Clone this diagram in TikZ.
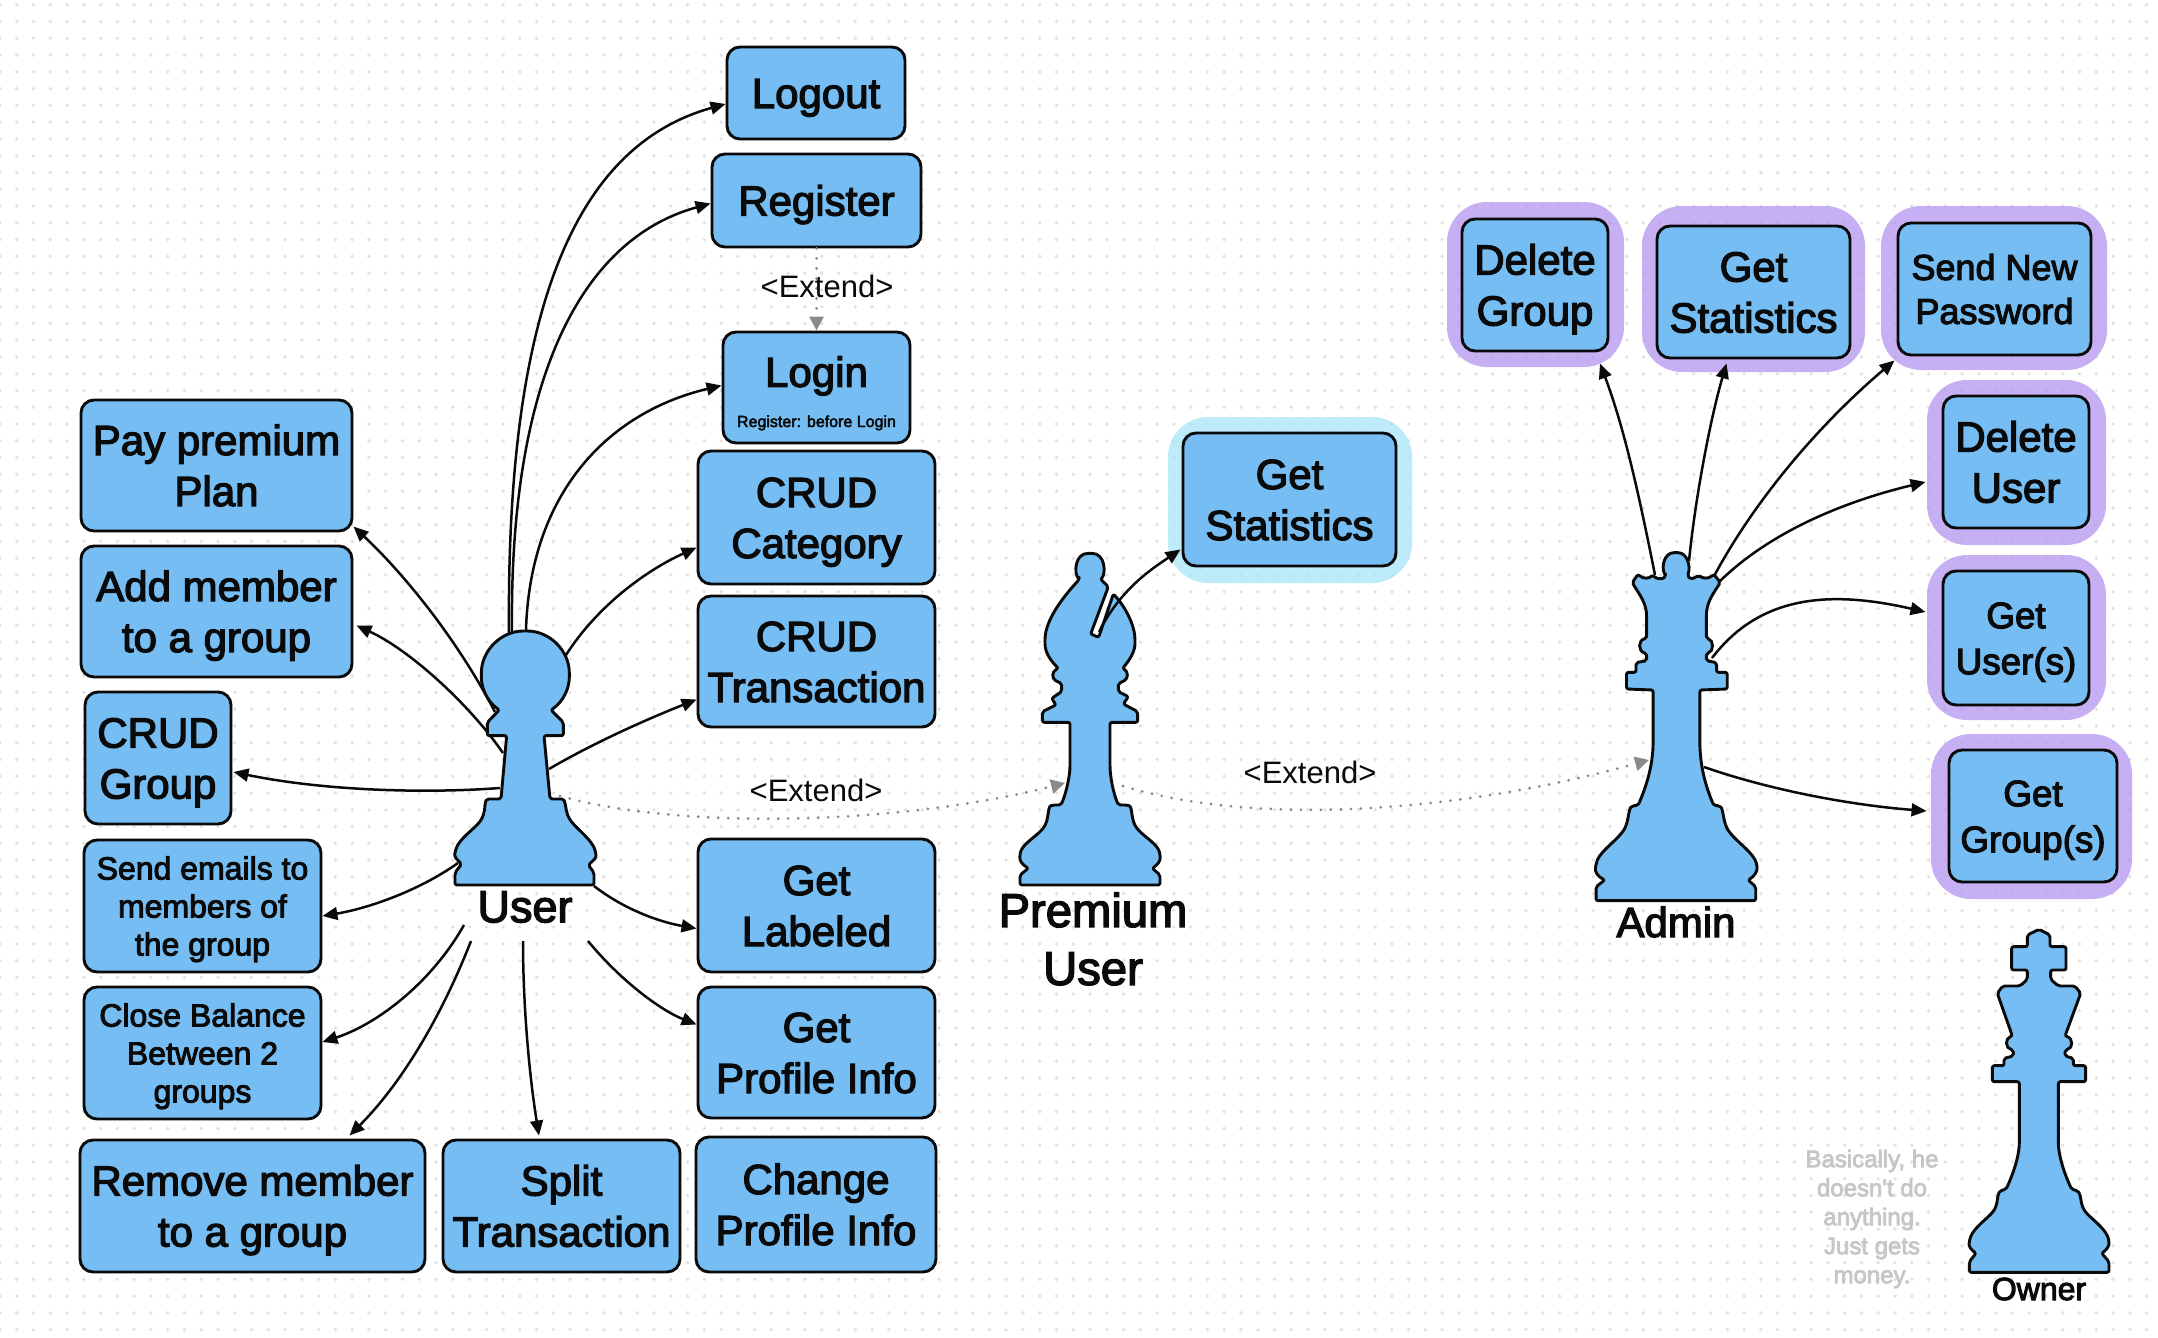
\documentclass[tikz,border=0pt]{standalone}
\usepackage{fontspec}
\setmainfont{Liberation Sans}
\newfontfamily\medf[FakeBold=3]{Liberation Sans}
\usetikzlibrary{arrows.meta,calc}
\definecolor{ucblue}{HTML}{75BDF2}
\definecolor{inkc}{HTML}{0A0A0A}
\definecolor{griddot}{HTML}{E2E2E2}
\definecolor{haloP}{HTML}{B595EF}
\definecolor{haloB}{HTML}{A9E5F9}
\definecolor{dotgray}{HTML}{8A8A8A}
\definecolor{notec}{HTML}{C6C6C6}
\tikzset{
  ucbox/.style={draw=inkc,fill=ucblue,line width=1.45pt,rounded corners=6.5pt,inner sep=0pt,align=center,text=inkc,text depth=0pt},
  bigf/.style={font=\fontsize{21}{25.5}\selectfont\medf,text height=40.5pt},
  bigone/.style={font=\fontsize{21}{25.5}\selectfont\medf,text height=15pt},
  smallf/.style={font=\fontsize{16}{19}\selectfont\medf,text height=49.5pt},
  midf/.style={font=\fontsize{18.4}{23}\selectfont\medf,text height=36.2pt},
  pwf/.style={font=\fontsize{18}{22}\selectfont\medf,text height=34.9pt},
  loginf/.style={font=\fontsize{21}{25.5}\selectfont\medf,text height=39.5pt},
  arr/.style={draw=inkc,line width=1.25pt,-{Triangle[length=7.5pt,width=6.4pt]}},
  dotarr/.style={draw=dotgray,line width=1.55pt,line cap=round,dash pattern=on 0pt off 5pt,-{Triangle[length=7pt,width=7pt,fill=dotgray,line cap=butt]}},
  piece/.style={draw=inkc,fill=ucblue,line width=1.45pt,line join=round,rounded corners=1pt},
  haloPur/.style={fill=haloP,fill opacity=.75,rounded corners=20pt},
  haloBlu/.style={fill=haloB,fill opacity=.75,rounded corners=20pt},
  extlab/.style={font=\fontsize{15.5}{18}\selectfont,text=inkc,inner sep=0pt},
  plabel/.style={text=inkc,inner sep=0pt,align=center},
}
\newcommand{\ucase}[7]{\node[ucbox,#6,minimum width={(#4-#2)*0.5pt},minimum height={(#5-#3)*0.5pt}] (#1) at ({(#2+#4)/2},{(#3+#5)/2}) {#7};}
\begin{document}
\begin{tikzpicture}[x=0.5pt,y=-0.5pt]
\useasboundingbox (0,0) rectangle (2158,1338);
\fill[white] (0,0) rectangle (2158,1338);
% dotted grid
\foreach \j in {0,...,79}{
  \draw[griddot,line width=1.9pt,line cap=round,dash pattern=on 0pt off 8.385pt] (0,{4.8+16.77*\j}) -- (2158,{4.8+16.77*\j});
}
% halos
\path[haloBlu] (1168,417) rectangle (1412,583);
\path[haloPur] (1447,202) rectangle (1624,367);
\path[haloPur] (1642,206) rectangle (1865,372);
\path[haloPur] (1881,206) rectangle (2107,370);
\path[haloPur] (1927,380) rectangle (2106,545);
\path[haloPur] (1927,555) rectangle (2106,720);
\path[haloPur] (1931,734) rectangle (2132,899);
% use case boxes
\ucase{logout}{727}{47}{905}{139}{bigone}{Logout}
\ucase{register}{712}{154}{921}{247}{bigone}{Register}
\ucase{login}{723}{332}{910}{443}{loginf}{Login\\[-5.4pt]{\fontsize{8}{10}\selectfont Register: before Login}}
\ucase{crudcat}{698}{451}{935}{584}{bigf}{CRUD\\Category}
\ucase{crudtra}{698}{596}{935}{727}{bigf}{CRUD\\Transaction}
\ucase{labeled}{698}{839}{935}{972}{bigf}{Get\\Labeled}
\ucase{profile}{698}{987}{935}{1118}{bigf}{Get\\Profile Info}
\ucase{change}{696}{1137}{936}{1272}{bigf}{Change\\Profile Info}
\ucase{split}{443}{1140}{680}{1272}{bigf}{Split\\Transaction}
\ucase{remove}{80}{1140}{425}{1272}{bigf}{Remove member\\to a group}
\ucase{close}{84}{987}{321}{1119}{smallf}{Close Balance\\Between 2\\groups}
\ucase{send}{84}{840}{321}{972}{smallf}{Send emails to\\members of\\the group}
\ucase{crudgrp}{85}{692}{231}{824}{bigf}{CRUD\\Group}
\ucase{addm}{81}{546}{352}{677}{bigf}{Add member\\to a group}
\ucase{pay}{81}{400}{352}{531}{bigf}{Pay premium\\Plan}
\ucase{pstat}{1183}{433}{1396}{566}{bigf}{Get\\Statistics}
\ucase{delgrp}{1462}{219}{1608}{351}{bigf}{Delete\\Group}
\ucase{astat}{1657}{226}{1850}{358}{bigf}{Get\\Statistics}
\ucase{sendpw}{1898}{223}{2091}{355}{pwf}{Send New\\Password}
\ucase{deluser}{1943}{396}{2089}{528}{bigf}{Delete\\User}
\ucase{getuser}{1943}{571}{2089}{705}{midf}{Get\\User(s)}
\ucase{getgrp}{1949}{750}{2117}{882}{midf}{Get\\Group(s)}
% connector anchors on the pieces
\coordinate (uA) at (509,633);
\coordinate (uB) at (512,633);
\coordinate (uC) at (526,630);
\coordinate (uD) at (566,655);
\coordinate (uE) at (549,769);
\coordinate (uF) at (594,886);
\coordinate (uG) at (588,941);
\coordinate (uH) at (523,941);
\coordinate (uI) at (471,941);
\coordinate (uJ) at (464,925);
\coordinate (uK) at (458,863);
\coordinate (uL) at (500,788);
\coordinate (uM) at (503,753);
\coordinate (uN) at (495,712);
\coordinate (uX) at (560,796);
\coordinate (bA) at (1099,632);
\coordinate (bIn) at (1065,783);
\coordinate (bOut) at (1123,786);
\coordinate (qIn) at (1649,760);
\coordinate (qA) at (1655,575);
\coordinate (qB) at (1689,561);
\coordinate (qC) at (1713,578);
\coordinate (qD) at (1716,585);
\coordinate (qE) at (1712,658);
\coordinate (qF) at (1704,767);
% connectors
\draw[arr] (uA) .. controls (506,303) and (578,145) .. ($(logout.west)+(0,11)$);
\draw[arr] (uB) .. controls (509,385) and (578,240) .. ($(register.west)+(0,3)$);
\draw[arr] (uC) .. controls (530,495) and (606,413) .. ($(login.west)+(0,-2)$);
\draw[arr] (uD) .. controls (598,605) and (647,570) .. ($(crudcat.west)+(0,30)$);
\draw[arr] (uE) .. controls (590,745) and (640,722) .. ($(crudtra.west)+(0,38)$);
\draw[arr] (uF) .. controls (625,910) and (660,922) .. ($(labeled.west)+(0,23)$);
\draw[arr] (uG) .. controls (620,980) and (660,1010) .. ($(profile.west)+(0,-28)$);
\draw[arr] (uH) .. controls (523,1010) and (530,1080) .. ($(split.north)+(-22.5,-3)$);
\draw[arr] (uI) .. controls (440,1020) and (400,1085) .. ($(remove.north)+(97,-3)$);
\draw[arr] (uJ) .. controls (430,985) and (375,1025) .. ($(close.east)+(0,-11)$);
\draw[arr] (uK) .. controls (420,890) and (370,908) .. ($(send.east)+(0,10)$);
\draw[arr] (uL) .. controls (420,794) and (320,790) .. ($(crudgrp.east)+(1,14)$);
\draw[arr] (uM) .. controls (470,705) and (410,650) .. ($(addm.east)+(3,14)$);
\draw[arr] (uN) .. controls (455,635) and (400,570) .. ($(pay.east)+(0,61)$);
\draw[arr] (qA) .. controls (1640,500) and (1625,430) .. ($(delgrp.south)+(65,11)$);
\draw[arr] (qB) .. controls (1695,500) and (1710,420) .. ($(astat.south)+(-27,4)$);
\draw[arr] (qC) .. controls (1760,490) and (1830,415) .. ($(sendpw.south west)+(-2,4)$);
\draw[arr] (qD) .. controls (1770,530) and (1850,500) .. ($(deluser.west)+(-16,20)$);
\draw[arr] (qE) .. controls (1760,595) and (1830,590) .. ($(getuser.west)+(-16,-26)$);
\draw[arr] (qF) .. controls (1770,790) and (1850,805) .. ($(getgrp.west)+(-21,-5)$);
\draw[dotarr] (uX) .. controls (680,830) and (900,825) .. (bIn);
\draw[dotarr] (bOut) .. controls (1250,825) and (1450,815) .. (qIn);
\draw[dotarr] (register.south) -- (login.north);
% pawn
\begin{scope}[shift={(400,560)},scale=1/3]
\draw[piece] (298,450) .. controls (262,425) and (244,385) .. (244,345) .. controls (244,272) and (303,213) .. (376,213) .. controls (449,213) and (508,272) .. (508,345) .. controls (508,385) and (490,425) .. (453,450)
 -- (490,487) -- (490,527) -- (432,527) -- (450,717) -- (480,717) .. controls (498,717) and (495,745) .. (505,770) .. controls (520,800) and (580,840) .. (587,880) .. controls (590,895) and (575,905) .. (565,915) -- (582,938) -- (582,975) -- (165,975) -- (165,938) -- (185,912) .. controls (172,900) and (162,890) .. (166,875) .. controls (175,835) and (235,800) .. (248,770) .. controls (258,745) and (250,717) .. (272,717) -- (303,717) -- (320,527) -- (262,527) -- (262,487) -- cycle;
\end{scope}
% bishop
\begin{scope}[shift={(980,400)},scale=1/3]
\draw[piece] (298,538) .. controls (282,520) and (284,460) .. (330,460) .. controls (376,460) and (378,520) .. (362,538) -- (385,560) -- (332,702) -- (356,712) -- (400,582) .. controls (440,625) and (465,680) .. (465,725) .. controls (465,760) and (440,790) .. (428,805) .. controls (445,815) and (445,835) .. (428,845) -- (415,850) -- (415,875) -- (445,890) -- (430,912) -- (473,935) -- (473,967) -- (390,967) -- (390,1090) .. controls (390,1130) and (400,1180) .. (415,1215) -- (440,1215) .. controls (460,1220) and (450,1260) .. (475,1290) .. controls (500,1315) and (535,1335) .. (540,1365) .. controls (542,1385) and (530,1395) .. (517,1405) -- (540,1425) -- (540,1455) -- (120,1455) -- (120,1425) -- (145,1405) .. controls (130,1395) and (118,1385) .. (120,1365) .. controls (125,1335) and (160,1315) .. (185,1290) .. controls (210,1260) and (200,1220) .. (220,1215) -- (243,1215) .. controls (258,1180) and (270,1130) .. (270,1090) -- (270,967) -- (187,967) -- (187,935) -- (228,915) -- (215,895) -- (245,875) -- (245,850) -- (232,845) .. controls (215,835) and (215,815) .. (235,805) .. controls (215,785) and (195,760) .. (195,725) .. controls (195,660) and (250,590) .. (298,538) -- cycle;
\end{scope}
\draw[arr] (bA) .. controls (1120,590) and (1150,570) .. ($(pstat.west)+(-1,50)$);
% queen
\begin{scope}[shift={(1560,540)},xscale=0.38,yscale=1/3]
\draw[piece] (278,108) .. controls (265,80) and (275,38) .. (305,38) .. controls (335,38) and (345,80) .. (335,108) .. controls (345,118) and (355,115) .. (365,105) .. controls (375,115) and (390,118) .. (405,103) -- (422,128) .. controls (400,165) and (385,190) .. (385,235) -- (385,295) .. controls (405,300) and (405,335) .. (385,340) -- (385,362) -- (412,368) -- (412,397) -- (440,397) -- (440,447) -- (368,450) -- (368,600) .. controls (368,680) and (385,745) .. (405,797) -- (420,797) .. controls (430,810) and (430,850) .. (445,875) .. controls (470,910) and (510,940) .. (518,975) .. controls (520,995) and (510,1010) .. (495,1020) -- (515,1040) -- (515,1082) -- (95,1082) -- (95,1040) -- (118,1020) .. controls (100,1010) and (90,995) .. (95,975) .. controls (100,940) and (140,910) .. (165,875) .. controls (180,850) and (180,810) .. (190,797) -- (205,797) .. controls (225,745) and (245,680) .. (245,600) -- (245,450) -- (175,447) -- (175,397) -- (200,397) -- (200,368) -- (228,362) -- (228,340) .. controls (205,335) and (205,300) .. (228,295) -- (228,235) .. controls (228,190) and (210,165) .. (190,128) -- (205,103) .. controls (220,118) and (235,115) .. (243,105) .. controls (255,118) and (270,118) .. (278,108) -- cycle;
\end{scope}
% king
\begin{scope}[shift={(1780,900)},scale=1/3]
\draw[piece] (777,88) -- (810,105) -- (810,140) -- (858,140) -- (858,210) -- (812,210) -- (812,238) -- (835,258) -- (885,258) -- (902,280) -- (855,408) .. controls (880,415) and (880,445) .. (855,450) -- (855,468) -- (880,475) -- (880,497) -- (917,497) -- (917,545) -- (835,545) -- (835,720) .. controls (835,770) and (855,825) .. (875,868) -- (893,872) .. controls (905,890) and (900,915) .. (920,940) .. controls (945,965) and (980,990) .. (987,1025) .. controls (987,1040) and (978,1050) .. (965,1060) -- (987,1085) -- (987,1117) -- (568,1117) -- (568,1085) -- (588,1060) .. controls (575,1050) and (566,1040) .. (568,1025) .. controls (575,990) and (610,965) .. (635,940) .. controls (655,915) and (650,890) .. (660,872) -- (678,868) .. controls (698,825) and (718,770) .. (718,720) -- (718,545) -- (637,545) -- (637,497) -- (672,497) -- (672,475) -- (700,468) -- (700,450) .. controls (675,445) and (675,415) .. (697,408) -- (652,280) -- (668,258) -- (720,258) -- (742,238) -- (742,210) -- (695,210) -- (695,140) -- (742,140) -- (742,105) -- cycle;
\end{scope}
% labels
\node[extlab] (ext1) at (827,286) {<Extend>};
\node[extlab] (ext2) at (816,790) {<Extend>};
\node[extlab] (ext3) at (1310,772) {<Extend>};
\node[plabel,font=\fontsize{22.5}{27}\selectfont\medf] (luser) at (525,907) {User};
\node[plabel,font=\fontsize{23.6}{29}\selectfont\medf] (lprem) at (1093,939) {Premium\\User};
\node[plabel,font=\fontsize{21}{25}\selectfont\medf] (ladmin) at (1676,922) {Admin};
\node[plabel,font=\fontsize{16}{19}\selectfont\medf] (lowner) at (2039,1289) {Owner};
\node[plabel,font=\fontsize{12}{14.5}\selectfont\medf,text=notec] (lnote) at (1872,1219) {Basically, he\\doesn't do\\anything.\\Just gets\\money.};
\end{tikzpicture}
\end{document}
